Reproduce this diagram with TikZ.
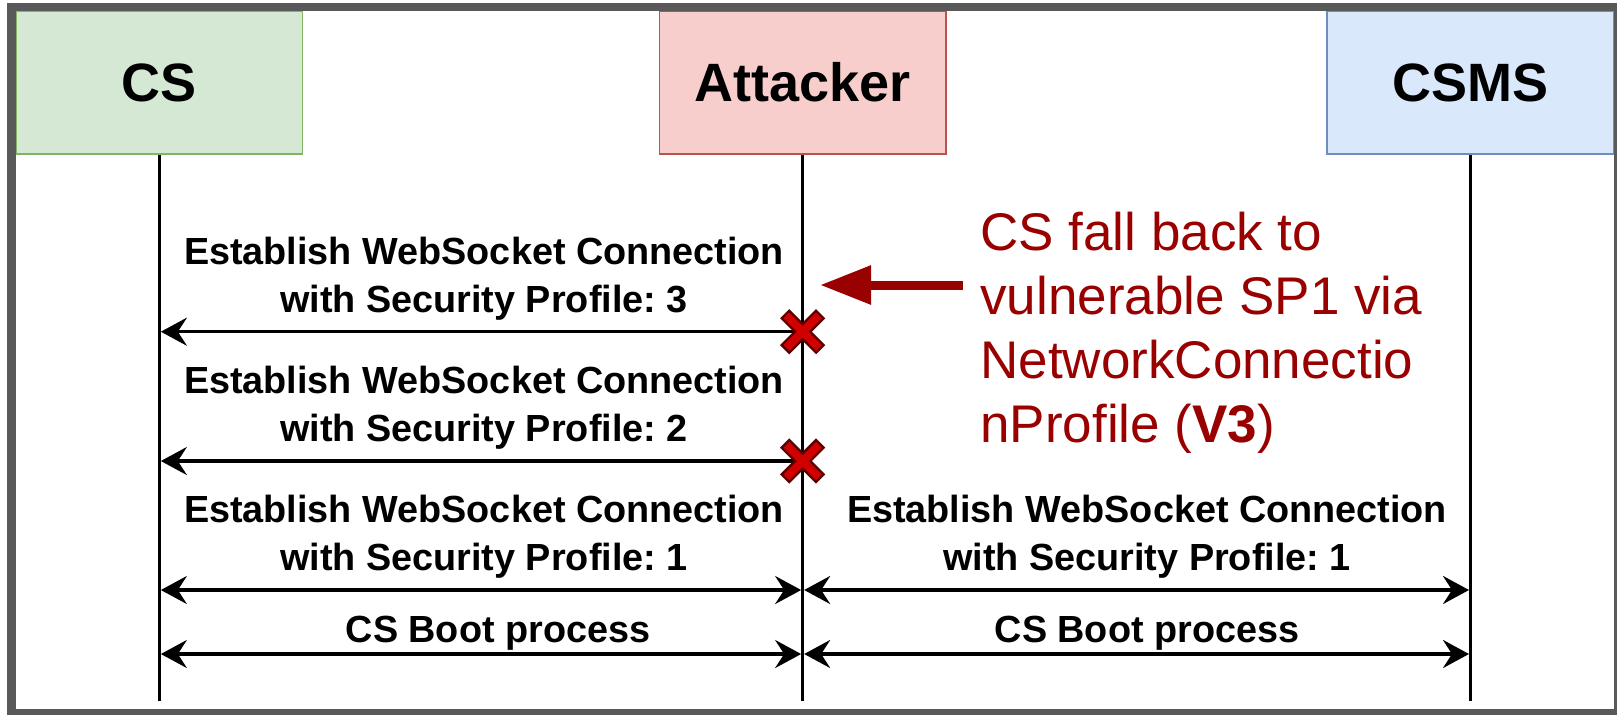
\documentclass[tikz,border=0pt]{standalone}
\usepackage{fontspec}
\setmainfont{Liberation Sans}
\usetikzlibrary{arrows.meta}
\frenchspacing

\definecolor{frameGray}{HTML}{595959}
\definecolor{csFill}{HTML}{D5E8D4}
\definecolor{csLine}{HTML}{82B366}
\definecolor{attFill}{HTML}{F8CECC}
\definecolor{attLine}{HTML}{B85450}
\definecolor{smsFill}{HTML}{DAE8FC}
\definecolor{smsLine}{HTML}{6C8EBF}
\definecolor{noteRed}{HTML}{990000}
\definecolor{crossRed}{HTML}{D00000}
\definecolor{crossEdge}{HTML}{5C0000}

\begin{document}
\begin{tikzpicture}[x=0.5pt, y=-0.5pt,
  actor/.style={draw, line width=0.75pt, minimum width=143.3pt, minimum height=71.5pt,
    inner sep=0pt, font=\fontsize{27}{32}\selectfont\bfseries},
  lifeline/.style={line width=1.5pt},
  headtip/.tip={Stealth[length=13pt,width=14pt,inset=4.5pt]},
  msg/.style={line width=1.7pt, shorten >=0.75pt, -headtip},
  msgboth/.style={line width=1.7pt, shorten >=0.75pt, shorten <=0.75pt, headtip-headtip},
  msglabel/.style={anchor=base, align=center, inner sep=0pt,
    font=\fontsize{18.9}{24.2}\selectfont\bfseries},
  note/.style={anchor=base west, align=left, inner sep=0pt, text=noteRed,
    font=\fontsize{26.5}{32.1}\selectfont},
  blockmark/.pic={
    \draw[crossEdge, line width=6.5pt] (-18,-18) -- (18,18) (-18,18) -- (18,-18);
    \draw[crossRed, line width=4pt] (-16.2,-16.2) -- (16.2,16.2) (-16.2,16.2) -- (16.2,-16.2);
  }
]
% page area
\fill[white] (0,0) rectangle (1617,714);
\useasboundingbox (0,0) rectangle (1617,714);

% participants
\node[actor, fill=csFill, draw=csLine] (cs) at (159.35,82.5) {CS};
\node[actor, fill=attFill, draw=attLine] (att) at (802.65,82.5) {Attacker};
\node[actor, fill=smsFill, draw=smsLine] (csms) at (1470.5,82.5) {CSMS};

% lifelines
\coordinate (cs-end) at (cs.south |- 0,701);
\coordinate (att-end) at (att.south |- 0,701);
\coordinate (csms-end) at (csms.south |- 0,701);
\draw[lifeline] (cs.south) -- (cs-end);
\draw[lifeline] (att.south) -- (att-end);
\draw[lifeline] (csms.south) -- (csms-end);

% message rows on the lifelines
\coordinate (cs-m1) at (cs.south |- 0,331.7);
\coordinate (att-m1) at (att.south |- 0,331.7);
\coordinate (cs-m2) at (cs.south |- 0,461);
\coordinate (att-m2) at (att.south |- 0,461);
\coordinate (cs-m3) at (cs.south |- 0,590);
\coordinate (att-m3) at (att.south |- 0,590);
\coordinate (csms-m3) at (csms.south |- 0,590);
\coordinate (cs-m4) at (cs.south |- 0,654);
\coordinate (att-m4) at (att.south |- 0,654);
\coordinate (csms-m4) at (csms.south |- 0,654);

% messages
\draw[msg] (att-m1) -- (cs-m1);
\draw[msg] (att-m2) -- (cs-m2);
\draw[msgboth] (cs-m3) -- (att-m3);
\draw[msgboth] (att-m3) -- (csms-m3);
\draw[msgboth] (cs-m4) -- (att-m4);
\draw[msgboth] (att-m4) -- (csms-m4);

% blocked connections
\pic at (att-m1) {blockmark};
\pic at (att-m2) {blockmark};

% message labels (anchored on the baseline of their last line)
\node[msglabel] (lab1) at (484,312.4) {Establish WebSocket Connection\\with Security Profile: 3};
\node[msglabel] (lab2) at (484,441.7) {Establish WebSocket Connection\\with Security Profile: 2};
\node[msglabel] (lab3) at (484,570.7) {Establish WebSocket Connection\\with Security Profile: 1};
\node[msglabel] (lab3r) at (1147,570.7) {Establish WebSocket Connection\\with Security Profile: 1};
\node[msglabel] (lab4) at (498,642) {CS Boot process};
\node[msglabel] (lab4r) at (1147,642) {CS Boot process};

% downgrade note
\node[note] (warn) at (980,442.7) {CS fall back to\\vulnerable SP1 via\\NetworkConnectio\\nProfile (\textbf{V3})};
\coordinate (warn-tail) at (963,285);
\coordinate (warn-tip) at (820,285);
\draw[noteRed, line width=4.5pt, -{Triangle[length=25.5pt,width=18.5pt]}] (warn-tail) -- (warn-tip);

% outer frame
\draw[frameGray, line width=4.25pt] (11.5,7.2) rectangle (1618,713);
\end{tikzpicture}
\end{document}
